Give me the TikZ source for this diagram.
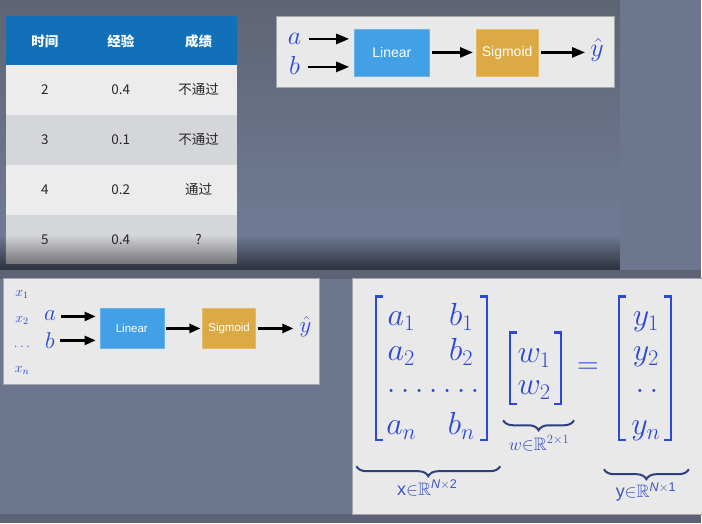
\RequirePackage{fix-cm}
\documentclass[tikz,border=0pt]{standalone}
\usepackage{amsmath,amssymb}
\usepackage{fontspec}
\setsansfont{Liberation Sans}
\newfontfamily\cjk{Noto Sans CJK SC}
\usetikzlibrary{arrows.meta,positioning,decorations.pathreplacing}

\definecolor{tblhead}{HTML}{1170B8}
\definecolor{rowlight}{HTML}{ECECEC}
\definecolor{rowdark}{HTML}{D5D6DA}
\definecolor{panel}{HTML}{E9E9E9}
\definecolor{panelline}{HTML}{A4A6AC}
\definecolor{linblue}{HTML}{42A0E6}
\definecolor{sigyel}{HTML}{DCAA45}
\definecolor{mathblue}{HTML}{2B48D6}
\definecolor{labblue}{HTML}{3C52C4}
\definecolor{bracenavy}{HTML}{2E3F7E}
\definecolor{bgslate}{HTML}{6C778F}
\definecolor{bgtop}{HTML}{5F6474}
\definecolor{bgmid}{HTML}{6F7B95}
\definecolor{bgdark}{HTML}{2C2F3B}
\definecolor{bgstrip}{HTML}{5D6375}

\tikzset{
  boxlin/.style={fill=linblue, draw=linblue!80!white, text=white, font=\sffamily},
  boxsig/.style={fill=sigyel, draw=sigyel!80!white, text=white, font=\sffamily},
  arr/.style={-{Triangle[length=13pt,width=10pt]}, line width=2.6pt},
  arrsmall/.style={-{Triangle[length=11pt,width=9pt]}, line width=2.3pt},
  invar/.style={text=mathblue, inner sep=0pt},
  entry/.style={text=mathblue, anchor=base, inner sep=0pt, font=\fontsize{32}{38}\selectfont},
  bracket/.style={draw=mathblue, line width=2.2pt},
  ubrace/.style={decorate, decoration={brace, mirror, amplitude=10pt}, draw=bracenavy, line width=2pt},
  dimlab/.style={text=labblue, font=\fontsize{18}{20}\selectfont},
  celltext/.style={font=\cjk\fontsize{13.5}{16}\selectfont, text=black!85},
  headtext/.style={font=\cjk\bfseries\fontsize{13.5}{16}\selectfont, text=white}
}

\begin{document}
\begin{tikzpicture}[x=1pt, y=-1pt]

% background of the slide
\fill[bgslate] (0,0) rectangle (702,524);
\shade[top color=bgtop, bottom color=bgmid] (0,0) rectangle (621,236);
\shade[top color=bgmid, bottom color=bgdark] (0,235) rectangle (621,271);
\fill[bgstrip] (0,270) rectangle (702,279);
\fill[bgstrip] (0,515) rectangle (702,524);

% data table
\fill[tblhead] (6,16) rectangle (237,65);
\fill[rowlight] (6,65) rectangle (237,115);
\fill[rowdark] (6,115) rectangle (237,165);
\fill[rowlight] (6,165) rectangle (237,215);
\fill[rowdark] (6,215) rectangle (237,236);
\shade[top color=rowdark, bottom color=rowdark!55!black] (6,235) rectangle (237,264);
\node[headtext] (h1) at (45,41) {时间};
\node[headtext] (h2) at (121,41) {经验};
\node[headtext] (h3) at (199,41) {成绩};
\foreach \t/\e/\r [count=\i] in {2/0.4/不通过, 3/0.1/不通过, 4/0.2/通过, 5/0.4/?} {
  \pgfmathsetmacro{\ry}{40+50*\i}
  \node[celltext] (t\i) at (45,\ry) {\t};
  \node[celltext] (e\i) at (121,\ry) {\e};
  \node[celltext] (r\i) at (199,\ry) {\r};
}

% top model diagram
\draw[panelline, fill=panel] (277,16) rectangle (615,87);
\node[boxlin, minimum width=75pt, minimum height=47pt, font=\sffamily\fontsize{14}{16}\selectfont] (lin1) at (392.5,52.5) {Linear};
\node[boxsig, minimum width=62pt, minimum height=47pt, font=\sffamily\fontsize{14}{16}\selectfont] (sig1) at (508,52.5) {Sigmoid};
\node[invar, font=\fontsize{26}{30}\selectfont] (a1) at (295,39) {$a$};
\node[invar, font=\fontsize{26}{30}\selectfont] (b1) at (295,66) {$b$};
\node[invar, font=\fontsize{26}{30}\selectfont] (yhat1) at (598,50) {$\hat{y}$};
\draw[arr, shorten <=8pt, shorten >=5pt] (a1) -- (a1 -| lin1.west);
\draw[arr, shorten <=8pt, shorten >=5pt] (b1.east |- 0,67) -- (lin1.west |- 0,67);
\draw[arr, shorten <=3pt, shorten >=3pt] (lin1) -- (sig1);
\draw[arr, shorten <=3pt, shorten >=5pt] (sig1) -- (yhat1.west |- sig1);

% model for n samples
\draw[panelline, fill=panel] (3,279) rectangle (320,385);
\node[invar, font=\fontsize{14}{16}\selectfont] (x1) at (22,295) {$x_1$};
\node[invar, font=\fontsize{14}{16}\selectfont] (x2) at (22,321) {$x_2$};
\node[invar, font=\fontsize{14}{16}\selectfont] (xd) at (22,347) {$\ldots$};
\node[invar, font=\fontsize{14}{16}\selectfont] (xn) at (22,371) {$x_n$};
\node[boxlin, minimum width=64pt, minimum height=40pt, font=\sffamily\fontsize{11.5}{13}\selectfont] (lin2) at (132,329) {Linear};
\node[boxsig, minimum width=53pt, minimum height=40pt, font=\sffamily\fontsize{11.5}{13}\selectfont] (sig2) at (229.5,329) {Sigmoid};
\node[invar, font=\fontsize{23}{27}\selectfont] (a2) at (50,316) {$a$};
\node[invar, font=\fontsize{23}{27}\selectfont] (b2) at (50,341) {$b$};
\node[invar, font=\fontsize{23}{27}\selectfont] (yhat2) at (306,327) {$\hat{y}$};
\draw[arrsmall, shorten <=5pt, shorten >=4pt] (a2.east |- 0,317) -- (lin2.west |- 0,317);
\draw[arrsmall, shorten <=5pt, shorten >=4pt] (b2.east |- 0,341) -- (lin2.west |- 0,341);
\draw[arrsmall, shorten <=2pt, shorten >=2pt] (lin2) -- (sig2);
\draw[arrsmall, shorten <=2pt, shorten >=6pt] (sig2) -- (yhat2.west |- sig2);

% matrix form
\draw[panelline, fill=panel] (353,279) rectangle (703,515);
\draw[bracket] (384,297) -- (377,297) -- (377,441) -- (384,441);
\draw[bracket] (481,297) -- (488,297) -- (488,441) -- (481,441);
\node[entry] (ma1) at (402,326) {$a_1$};
\node[entry] (mb1) at (462,326) {$b_1$};
\node[entry] (ma2) at (402,361) {$a_2$};
\node[entry] (mb2) at (462,361) {$b_2$};
\node[entry] (mdots) at (434,393) {$\ldotp\ldotp\ldotp\ldotp\ldotp\ldotp\ldotp$};
\node[entry] (man) at (402,435) {$a_n$};
\node[entry] (mbn) at (462,435) {$b_n$};

\draw[bracket] (518,333) -- (511,333) -- (511,405) -- (518,405);
\draw[bracket] (555,333) -- (562,333) -- (562,405) -- (555,405);
\node[entry] (w1) at (535,363) {$w_1$};
\node[entry] (w2) at (535,395) {$w_2$};

\node[text=mathblue, font=\fontsize{30}{36}\selectfont] (eq) at (589,369) {$=$};

\draw[bracket] (627,297) -- (620,297) -- (620,441) -- (627,441);
\draw[bracket] (665,297) -- (672,297) -- (672,441) -- (665,441);
\node[entry] (y1) at (647,326) {$y_1$};
\node[entry] (y2) at (647,361) {$y_2$};
\node[entry] (ydots) at (648,393) {$\ldotp\ldotp$};
\node[entry] (yn) at (647,435) {$y_n$};

% dimensions under the matrices
\draw[ubrace] (357,467) -- (501,467);
\draw[ubrace] (504,421) -- (575,421);
\draw[ubrace] (605,470) -- (690,470);
\node[dimlab] (xlab) at (428,489) {$\textsf{x}\mathord{\in}\mathbb{R}^{\textsf{\slshape N}\times\textsf{2}}$};
\node[dimlab] (wlab) at (540,444) {$w\mathord{\in}\mathbb{R}^{2\times 1}$};
\node[dimlab] (ylab) at (647,493) {$\textsf{y}\mathord{\in}\mathbb{R}^{\textsf{\slshape N}\times\textsf{1}}$};

\end{tikzpicture}
\end{document}
